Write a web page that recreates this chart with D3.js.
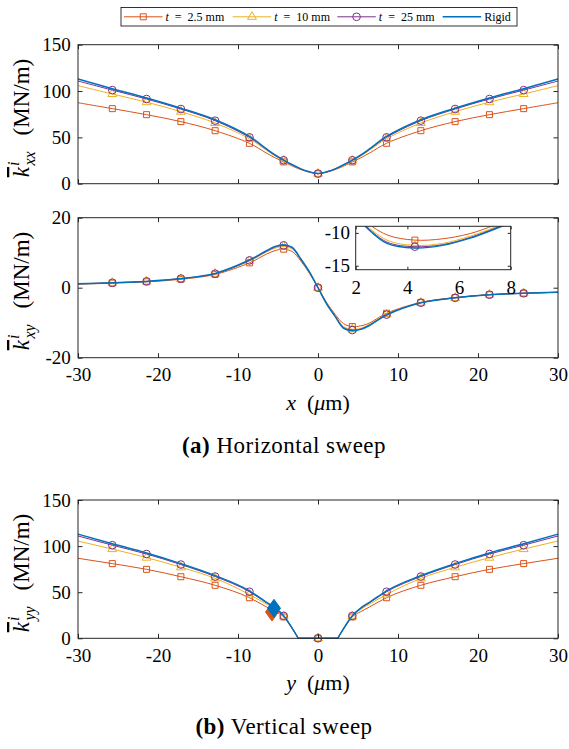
<!DOCTYPE html>
<html>
<head>
<meta charset="utf-8">
<script src="https://cdn.jsdelivr.net/npm/d3@7"></script>
<style>
body { margin: 0; background: #fff; }
svg text { font-family: "Liberation Serif", "DejaVu Serif", serif; fill: #000; }
</style>
</head>
<body>
<div id="chart"></div>
<script>
const W = 569, H = 749;
const FONT = '"Liberation Serif", "DejaVu Serif", serif';

// legend / series
const seriesNames = ['2.5 mm', '10 mm', '25 mm', 'Rigid'];
const colors = ['#D95319', '#EDB120', '#7E2F8E', '#0072BD'];
const markerTypes = ['square', 'triangle', 'circle', null];

// x positions (um)
const xGrid = [-30, -25.71, -21.43, -17.14, -12.86, -8.57, -6.43, -5.36, -4.29, -3.21, -2.14, -1.07, 0,
               1.07, 2.14, 3.21, 4.29, 5.36, 6.43, 8.57, 12.86, 17.14, 21.43, 25.71, 30];
const xMarks = [-25.71, -21.43, -17.14, -12.86, -8.57, -4.29, 0, 4.29, 8.57, 12.86, 17.14, 21.43, 25.71];
const yGrid = [-30, -25.71, -21.43, -17.14, -12.86, -8.57, -6.43, -5.36, -4.29, -3.37, -2.46, 0,
               2.46, 3.37, 4.29, 5.36, 6.43, 8.57, 12.86, 17.14, 21.43, 25.71, 30];

// (a) k_xx  (MN/m)
const kxxT2_5  = [87.4, 81, 74.5, 67, 57.2, 43.6, 33, 28, 23.5, 19, 15.2, 12.3, 10.7,
                  12.3, 15.2, 19, 23.5, 28, 33, 43.6, 57.2, 67, 74.5, 81, 87.4];
const kxxT10   = [105.8, 96.8, 88, 77.7, 65.5, 48.5, 36, 30, 24.8, 20, 15.7, 12.6, 10.8,
                  12.6, 15.7, 20, 24.8, 30, 36, 48.5, 65.5, 77.7, 88, 96.8, 105.8];
const kxxT25   = [110.8, 101, 91.4, 80.6, 68, 50, 37, 30.5, 25.3, 20.3, 15.9, 12.7, 10.9,
                  12.7, 15.9, 20.3, 25.3, 30.5, 37, 50, 68, 80.6, 91.4, 101, 110.8];
const kxxRigid = [113, 102.5, 92.5, 81.5, 69, 51, 37.5, 31, 25.5, 20.5, 16, 12.8, 11,
                  12.8, 16, 20.5, 25.5, 31, 37.5, 51, 69, 81.5, 92.5, 102.5, 113];

// (a) k_xy  (MN/m)
const kxyT2_5  = [1.0, 1.3, 1.7, 2.4, 3.8, 7.1, 9.6, 10.6, 11.0, 10.3, 7.6, 4.1, 0,
                  -4.2, -7.6, -10.3, -11.1, -10.9, -10.1, -7.3, -4.2, -2.8, -2.0, -1.6, -1.3];
const kxyT10   = [1.1, 1.4, 1.8, 2.5, 4.0, 7.6, 10.2, 11.3, 11.8, 11.0, 8.0, 4.3, 0,
                  -4.4, -8.0, -11.1, -11.9, -11.6, -10.5, -7.6, -4.3, -2.9, -2.0, -1.6, -1.3];
const kxyT25   = [1.1, 1.4, 1.8, 2.6, 4.0, 7.8, 10.4, 11.6, 12.1, 11.3, 8.1, 4.4, 0,
                  -4.5, -8.1, -11.4, -12.1, -11.8, -10.7, -7.7, -4.3, -2.9, -2.0, -1.6, -1.3];
const kxyRigid = [1.1, 1.4, 1.8, 2.6, 4.1, 7.9, 10.6, 11.8, 12.3, 11.5, 8.2, 4.5, 0,
                  -4.6, -8.2, -11.6, -12.3, -11.9, -10.8, -7.8, -4.3, -2.9, -2.0, -1.6, -1.3];

// (b) k_yy  (MN/m)
const kyyT2_5  = [86.8, 81, 74.8, 66.8, 57.5, 44, 34, 29, 23.2, 12.2, 0, 0,
                  0, 12.2, 23.2, 29, 34, 44, 57.5, 66.8, 74.8, 81, 86.8];
const kyyT10   = [105.5, 96.8, 87.5, 77, 65, 47.5, 37, 31.5, 23.8, 12.6, 0, 0,
                  0, 12.6, 23.8, 31.5, 37, 47.5, 65, 77, 87.5, 96.8, 105.5];
const kyyT25   = [111, 101, 91.4, 80, 67, 50.5, 38.5, 32.5, 24.3, 12.9, 0, 0,
                  0, 12.9, 24.3, 32.5, 38.5, 50.5, 67, 80, 91.4, 101, 111];
const kyyRigid = [113, 102.5, 92.5, 81, 68, 51.5, 39, 33, 24.5, 13, 0, 0,
                  0, 13, 24.5, 33, 39, 51.5, 68, 81, 92.5, 102.5, 113];

// diamonds in (b)
const diamondX = [-5.75, -5.5];
const diamondY = [28.5, 32.5];
const diamondSeries = [0, 3];

const xTicks = [-30, -20, -10, 0, 10, 20, 30];

const svg = d3.select('#chart').append('svg')
  .attr('width', W).attr('height', H);

const x = d3.scaleLinear().domain([-30, 30]).range([78, 558]);
const y1 = d3.scaleLinear().domain([0, 150]).range([183.7, 44.7]);
const y2 = d3.scaleLinear().domain([-20, 20]).range([357.7, 217.7]);
const y3 = d3.scaleLinear().domain([0, 150]).range([638.3, 500]);
const xi = d3.scaleLinear().domain([2, 8]).range([355.7, 510.7]);
const yi = d3.scaleLinear().domain([-15.6, -9]).range([269.7, 226.3]);

const fmt = d => String(d);

function drawAxes(xs, ys, xt, yt, showX, tick, padX, padY) {
  const [xa, xb] = xs.range();
  const [ya, yb] = ys.range();
  const axes = [
    [d3.axisBottom(xs).tickValues(xt).tickFormat(showX ? fmt : ''), `translate(0,${ya})`, padX],
    [d3.axisTop(xs).tickValues(xt).tickFormat(''), `translate(0,${yb})`, 0],
    [d3.axisLeft(ys).tickValues(yt).tickFormat(fmt), `translate(${xa},0)`, padY],
    [d3.axisRight(ys).tickValues(yt).tickFormat(''), `translate(${xb},0)`, 0]
  ];
  axes.forEach(([ax, tr, pad]) => {
    const g = svg.append('g')
      .attr('transform', tr)
      .attr('color', '#262626')
      .call(ax.tickSize(-tick).tickSizeOuter(0).tickPadding(pad))
      .attr('font-size', 19)
      .attr('font-family', FONT);
    g.select('.domain').remove();
  });
  svg.append('rect')
    .attr('x', xa).attr('y', yb)
    .attr('width', xb - xa).attr('height', ya - yb)
    .attr('fill', 'none')
    .attr('stroke', '#262626')
    .attr('stroke-width', 1);
}

function marker(g, type, cx, cy, color) {
  let sym;
  if (type === 'square') sym = d3.symbol(d3.symbolSquare, 36);
  else if (type === 'triangle') sym = d3.symbol(d3.symbolTriangle, 34);
  else sym = d3.symbol(d3.symbolCircle, 46);
  g.append('path')
    .attr('d', sym())
    .attr('transform', `translate(${cx},${cy})`)
    .attr('fill', 'none')
    .attr('stroke', color)
    .attr('stroke-width', 1);
}

function drawSeries(g, xs, ys, xData, yData, i, segments, curve) {
  const pts = xData.map((v, j) => [v, yData[j]]);
  const line = d3.line().x(d => xs(d[0])).y(d => ys(d[1])).curve(curve);
  segments.forEach(([a, b]) => {
    g.append('path')
      .datum(pts.slice(a, b + 1))
      .attr('d', line)
      .attr('fill', 'none')
      .attr('stroke', colors[i])
      .attr('stroke-width', i === 3 ? 1.5 : 1);
  });
  if (markerTypes[i]) {
    pts.filter(p => xMarks.includes(p[0])).forEach(p => {
      marker(g, markerTypes[i], xs(p[0]), ys(p[1]), colors[i]);
    });
  }
}

function yLabel(cx, cy, sub) {
  const t = svg.append('text')
    .attr('transform', `translate(${cx},${cy}) rotate(-90)`)
    .attr('text-anchor', 'middle')
    .attr('font-family', FONT)
    .attr('font-size', 23);
  t.append('tspan').attr('font-style', 'italic').style('text-decoration', 'overline').text('k');
  t.append('tspan').attr('font-style', 'italic').attr('font-size', 16).attr('dy', -10).attr('dx', 1).text('i');
  t.append('tspan').attr('font-style', 'italic').attr('font-size', 16).attr('dy', 16).attr('dx', -4).text(sub);
  t.append('tspan').attr('dy', -6).attr('dx', 16).text('(MN/m)');
}

function xLabel(cx, cy, v) {
  const t = svg.append('text')
    .attr('x', cx).attr('y', cy)
    .attr('text-anchor', 'middle')
    .attr('font-family', FONT)
    .attr('font-size', 22);
  t.append('tspan').attr('font-style', 'italic').text(v);
  t.append('tspan').text('\u2002(');
  t.append('tspan').attr('font-style', 'italic').text('\u03bc');
  t.append('tspan').text('m)');
}

function caption(cx, cy, tag, words) {
  const t = svg.append('text')
    .attr('x', cx).attr('y', cy)
    .attr('text-anchor', 'middle')
    .attr('font-family', FONT)
    .attr('font-size', 23)
    .attr('letter-spacing', 0.5);
  t.append('tspan').attr('font-weight', 'bold').text(tag);
  t.append('tspan').text(' ' + words);
}

const curve = d3.curveCatmullRom.alpha(0.5);
const allSeg = [[0, xGrid.length - 1]];

// ---- panel 1: k_xx
const g1 = svg.append('g');
[kxxT2_5, kxxT10, kxxT25, kxxRigid].forEach((s, i) => drawSeries(g1, x, y1, xGrid, s, i, allSeg, curve));
drawAxes(x, y1, xTicks, [0, 50, 100, 150], false, 4.5, 8.8, 7.3);
yLabel(29, 118, 'xx');

// ---- panel 2: k_xy
const g2 = svg.append('g');
[kxyT2_5, kxyT10, kxyT25, kxyRigid].forEach((s, i) => drawSeries(g2, x, y2, xGrid, s, i, allSeg, curve));
drawAxes(x, y2, xTicks, [-20, 0, 20], true, 4.5, 9.5, 7.3);
yLabel(29, 291, 'xy');
xLabel(318, 410, 'x');

// inset
svg.append('rect')
  .attr('x', xi.range()[0]).attr('y', yi.range()[1])
  .attr('width', xi.range()[1] - xi.range()[0])
  .attr('height', yi.range()[0] - yi.range()[1])
  .attr('fill', '#fff');
svg.append('clipPath').attr('id', 'inset-clip')
  .append('rect')
  .attr('x', xi.range()[0]).attr('y', yi.range()[1])
  .attr('width', xi.range()[1] - xi.range()[0])
  .attr('height', yi.range()[0] - yi.range()[1]);
const gi = svg.append('g').attr('clip-path', 'url(#inset-clip)');
[kxyT2_5, kxyT10, kxyT25, kxyRigid].forEach((s, i) => drawSeries(gi, xi, yi, xGrid, s, i, allSeg, curve));
drawAxes(xi, yi, [2, 4, 6, 8], [-15, -10], true, 3, 11, 5.7);

// ---- panel 3: k_yy
const g3 = svg.append('g');
const ySeg = [[0, 10], [10, 12], [12, 22]];
[kyyT2_5, kyyT10, kyyT25, kyyRigid].forEach((s, i) => drawSeries(g3, x, y3, yGrid, s, i, ySeg, d3.curveMonotoneX));
diamondX.forEach((dx, j) => {
  const c = colors[diamondSeries[j]];
  g3.append('path')
    .attr('d', 'M0,-9L6.5,0L0,9L-6.5,0Z')
    .attr('transform', `translate(${x(dx)},${y3(diamondY[j])})`)
    .attr('fill', c)
    .attr('stroke', c)
    .attr('stroke-width', 1);
});
drawAxes(x, y3, xTicks, [0, 50, 100, 150], true, 4.5, 10, 7.3);
yLabel(29, 573, 'yy');
xLabel(318, 690, 'y');

// captions
caption(284, 453, '(a)', 'Horizontal sweep');
caption(284, 734, '(b)', 'Vertical sweep');

// ---- legend
const legX = [124, 232.7, 337.3, 442.7];
const legend = svg.append('g');
legend.append('rect')
  .attr('x', 121).attr('y', 7.5)
  .attr('width', 396).attr('height', 18.5)
  .attr('fill', '#fff')
  .attr('stroke', '#000')
  .attr('stroke-width', 0.8);
seriesNames.forEach((name, i) => {
  const lx = legX[i], ly = 16.8;
  legend.append('line')
    .attr('x1', lx).attr('x2', lx + 38.5)
    .attr('y1', ly).attr('y2', ly)
    .attr('stroke', colors[i])
    .attr('stroke-width', i === 3 ? 1.5 : 1);
  if (markerTypes[i]) marker(legend, markerTypes[i], lx + 19.25, ly, colors[i]);
  const t = legend.append('text')
    .attr('x', lx + 41.5).attr('y', 20.5)
    .attr('font-family', FONT)
    .attr('font-size', 12);
  if (i < 3) {
    t.append('tspan').attr('font-style', 'italic').text('t');
    t.append('tspan').text('\u2002=\u2002' + name);
  } else {
    t.text(name);
  }
});
</script>
</body>
</html>
